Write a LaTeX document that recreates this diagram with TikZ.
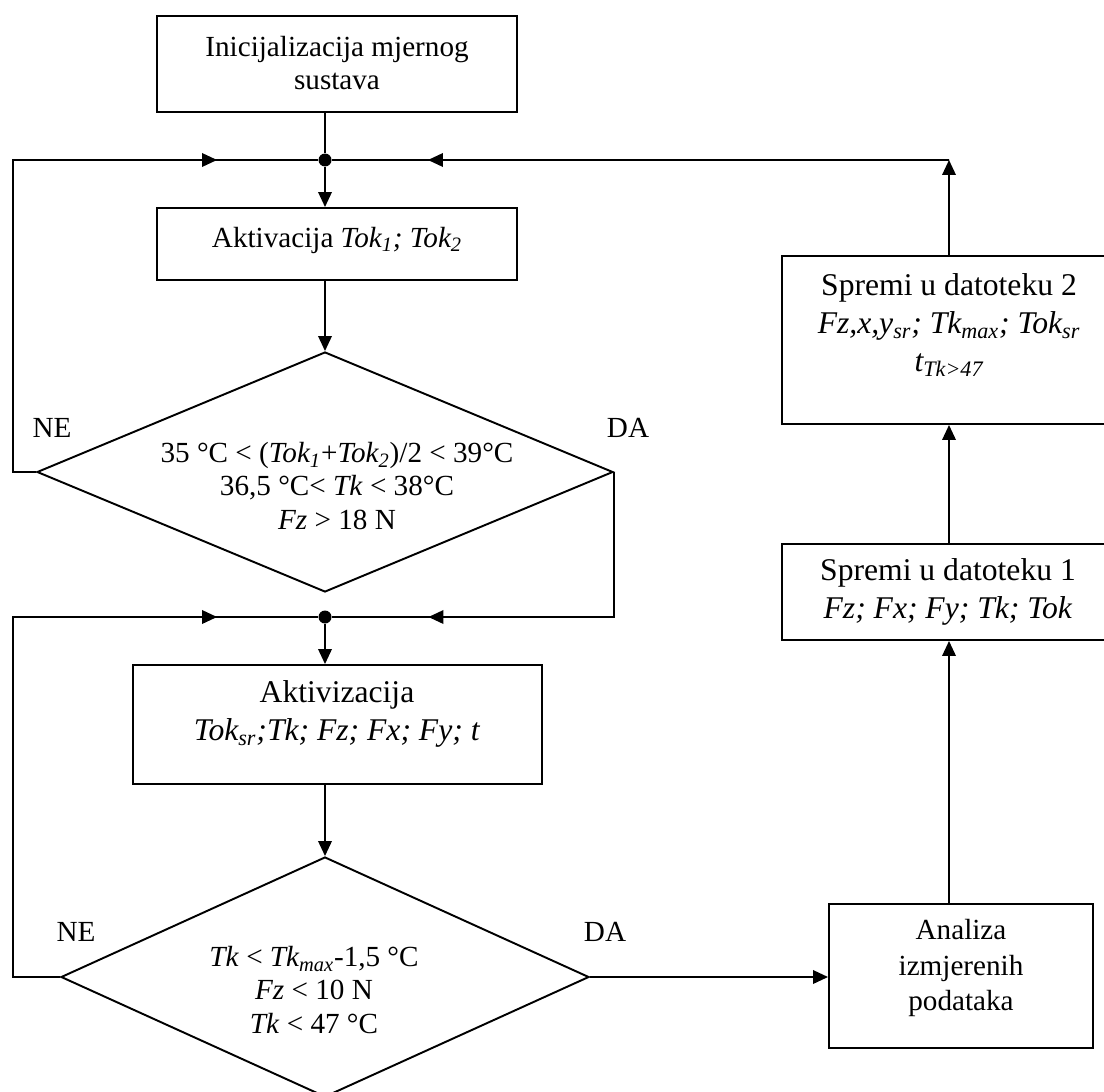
\documentclass[tikz,border=0pt]{standalone}
\usepackage{fontspec}
\setmainfont{Liberation Serif}
\usepackage{tikz}
\usetikzlibrary{calc,positioning,arrows.meta,shapes.geometric}

\newcommand{\pxu}{0.02cm}
\tikzset{
  frame/.style={draw,line width=1.1pt,rectangle,inner sep=0pt},
  decision/.style={draw,line width=1.1pt,diamond,inner sep=0pt},
  txt/.style={align=center,inner sep=0pt,font=\fontsize{16.6}{18.8}\selectfont},
  txtL/.style={align=center,inner sep=0pt,font=\fontsize{18}{21.6}\selectfont},
  line/.style={line width=1.1pt},
  flow/.style={line width=1.1pt,-{Triangle[length=0.3cm,width=0.27cm]}},
  junction/.style={circle,fill,inner sep=0pt,minimum size=0.26cm},
}

\begin{document}
\begin{tikzpicture}[x=0.02cm,y=-0.02cm]
  \useasboundingbox (0,0) rectangle (1104,1091);

  % left column
  \node[frame,minimum width=360*\pxu,minimum height=96*\pxu] (init) at (337,64) {};
  \node[txt] (initT) at (337,63) {Inicijalizacija mjernog\\sustava};
  \node[junction] (j1) at (325,160) {};
  \node[frame,minimum width=360*\pxu,minimum height=72*\pxu] (tok) at (337,244) {};
  \node[txt] (tokT) at (337,240) {Aktivacija \textit{Tok\textsubscript{1}; Tok\textsubscript{2}}};
  \node[decision,minimum width=576*\pxu,minimum height=240*\pxu] (cond1) at (325,472) {};
  \node[txt] (cond1T) at (337,486) {35 °C < (\textit{Tok\textsubscript{1}}+\textit{Tok\textsubscript{2}})/2 < 39°C\\
    36,5 °C< \textit{Tk} < 38°C\\
    \textit{Fz} > 18 N};
  \node[junction] (j2) at (325,617) {};
  \node[frame,minimum width=409*\pxu,minimum height=119*\pxu] (akt) at (337.5,724.5) {};
  \node[txtL] (aktT) at (337,714) {Aktivizacija\\
    \textit{Tok\textsubscript{sr};Tk; Fz; Fx; Fy; t}};
  \node[decision,minimum width=528*\pxu,minimum height=240*\pxu] (cond2) at (325,977) {};
  \node[txt] (cond2T) at (314,990) {\textit{Tk} < \textit{Tk\textsubscript{max}}-1,5 °C\\
    \textit{Fz} < 10 N\\
    \textit{Tk} < 47 °C};

  % right column (cut by the page edge)
  \node[frame,minimum width=334*\pxu,minimum height=168*\pxu] (save2) at (949,340) {};
  \node[txtL] (save2T) at (949,325) {Spremi u datoteku 2\\
    \textit{Fz,x,y\textsubscript{sr}; Tk\textsubscript{max}; Tok\textsubscript{sr}}\\
    \textit{t\textsubscript{Tk>47}}};
  \node[frame,minimum width=334*\pxu,minimum height=96*\pxu] (save1) at (949,592) {};
  \node[txtL] (save1T) at (948,592) {Spremi u datoteku 1\\
    \textit{Fz; Fx; Fy; Tk; Tok}};
  \node[frame,minimum width=264*\pxu,minimum height=144*\pxu] (anal) at (961,976) {};
  \node[txt] (analT) at (961,968) {Analiza\\[0.04cm]izmjerenih\\[0.04cm]podataka};

  % labels
  \node[txt] (ne1T) at (52,428) {NE};
  \node[txt] (da1T) at (628,428) {DA};
  \node[txt] (ne2T) at (76,932) {NE};
  \node[txt] (da2T) at (605,932) {DA};

  % corners
  \coordinate (ne1) at (13,160);
  \coordinate (ne2) at (13,617);
  \coordinate (up1) at (949,160);
  \coordinate (da1) at (cond1.east |- j2);

  % connectors
  \draw[line] (init.south -| j1) -- (j1);
  \draw[flow] (j1) -- (j1 |- tok.north);
  \draw[flow] (tok.south -| cond1) -- (cond1.north);
  \draw[line] (cond1.west) -| (ne1) -- (j1);
  \draw[flow] (ne1) -- ($(ne1)!0.654!(j1)$);
  \draw[line] (up1) -- (j1);
  \draw[flow] (up1) -- ($(up1)!0.835!(j1)$);
  \draw[flow] (save2.north) -- (up1);
  \draw[line] (cond1.east) -- (da1) -- (j2);
  \draw[flow] (da1) -- ($(da1)!0.642!(j2)$);
  \draw[line] (cond2.west) -| (ne2) -- (j2);
  \draw[flow] (ne2) -- ($(ne2)!0.654!(j2)$);
  \draw[flow] (j2) -- (j2 |- akt.north);
  \draw[flow] (akt.south -| cond2) -- (cond2.north);
  \draw[flow] (cond2.east) -- (cond2.east -| anal.west);
  \draw[flow] (anal.north -| up1) -- (save1.south);
  \draw[flow] (save1.north) -- (save2.south);
\end{tikzpicture}
\end{document}
